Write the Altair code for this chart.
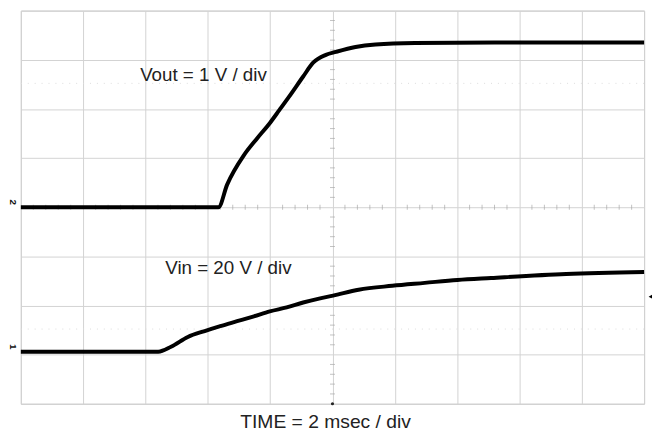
import altair as alt
import pandas as pd

# Time in ms (2 ms/div), voltages in V
vout_t = [0, 6.34, 6.62, 7.16, 7.58, 8.00, 8.30, 8.62, 9.06, 9.38, 9.79, 10.11, 10.74, 11.38, 12.65, 15.2, 20.0]
vout_v = [0, 0, 0.46, 1.06, 1.40, 1.72, 1.98, 2.26, 2.66, 2.94, 3.10, 3.16, 3.26, 3.31, 3.34, 3.35, 3.35]
vin_t = [0, 4.41, 4.82, 5.36, 5.90, 6.40, 6.94, 7.48, 7.99, 8.53, 9.06, 9.57, 10.02, 10.84, 11.92, 12.96, 14.01, 15.09, 17.50, 20.0]
vin_v = [0, 0, 2.0, 6.0, 8.4, 10.4, 12.4, 14.4, 16.4, 18.0, 20.0, 21.6, 22.8, 25.2, 26.8, 28.0, 29.2, 30.0, 31.6, 32.4]

vout_scale = 1.0    # V/div
vin_scale = 20.0    # V/div
vout_offset = 0.0   # div (channel 2 marker)
vin_offset = -2.94  # div (channel 1 marker)

labels = ["Vout = 1 V / div", "Vin = 20 V / div"]
label_t = [5.86, 6.66]
label_pos = [2.68, -1.24]

grid_color = "#d2d2d2"
font = "Liberation Sans"

rows = []
for t, v in zip(vout_t, vout_v):
    rows.append({"series": "Vout", "t": t, "pos": v / vout_scale + vout_offset})
for t, v in zip(vin_t, vin_v):
    rows.append({"series": "Vin", "t": t, "pos": v / vin_scale + vin_offset})
traces = pd.DataFrame(rows)

xs = alt.Scale(domain=[0, 20], nice=False, zero=False)
ys = alt.Scale(domain=[-4, 4], nice=False, zero=False)

base_x = alt.X("t:Q", scale=xs, axis=alt.Axis(
    values=list(range(0, 21, 2)), grid=True, gridColor=grid_color, gridWidth=1,
    labels=False, ticks=False, domain=False,
    title="TIME = 2 msec / div", titleFont=font, titleFontSize=19.5,
    titleFontWeight="normal", titleColor="#222222", titlePadding=9, titleX=308))
base_y = alt.Y("pos:Q", scale=ys, axis=alt.Axis(
    values=list(range(-4, 5)), grid=True, gridColor=grid_color, gridWidth=1,
    labels=False, ticks=False, domain=False, title=None))

lines = alt.Chart(traces).mark_line(color="black", strokeWidth=4, strokeJoin="round",
                                    interpolate="monotone").encode(
    x=base_x, y=base_y, detail="series:N")

# minor ticks along the centre lines
htk = pd.DataFrame({"t": [i * 0.4 for i in range(51) if i % 5 != 0], "pos": 0.0})
vtk = pd.DataFrame({"t": 10.0, "pos": [-4 + i * 0.2 for i in range(41) if i % 5 != 0]})
hticks = alt.Chart(htk).mark_tick(orient="vertical", size=5, thickness=1, color="#a8a8a8").encode(
    x=alt.X("t:Q", scale=xs), y=alt.Y("pos:Q", scale=ys))
vticks = alt.Chart(vtk).mark_tick(orient="horizontal", size=5, thickness=1, color="#a8a8a8").encode(
    x=alt.X("t:Q", scale=xs), y=alt.Y("pos:Q", scale=ys))

# faint dotted reference lines
ref = pd.DataFrame({"pos": [2.52, -2.48]})
refs = alt.Chart(ref).mark_rule(color="#dcdcdc", strokeDash=[1, 6], strokeWidth=1).encode(
    y=alt.Y("pos:Q", scale=ys))

lab = pd.DataFrame({"text": labels, "t": label_t, "pos": label_pos})
texts = alt.Chart(lab).mark_text(font=font, fontSize=19, color="#222222").encode(
    x=alt.X("t:Q", scale=xs), y=alt.Y("pos:Q", scale=ys), text="text:N")

ch = pd.DataFrame({"text": ["2", "1"], "t": [-0.24, -0.24], "pos": [vout_offset + 0.1, vin_offset + 0.1]})
chans = alt.Chart(ch).mark_text(font=font, fontSize=10, fontWeight="bold", angle=90, color="#111111").encode(
    x=alt.X("t:Q", scale=xs), y=alt.Y("pos:Q", scale=ys), text="text:N")

trig = pd.DataFrame({"t": [20.22], "pos": [-1.82]})
trig_mark = alt.Chart(trig).mark_point(shape="triangle-left", size=30, filled=True, color="black", opacity=1).encode(
    x=alt.X("t:Q", scale=xs), y=alt.Y("pos:Q", scale=ys))

tpos = pd.DataFrame({"t": [10.0], "pos": [-4.0]})
tpos_mark = alt.Chart(tpos).mark_point(shape="circle", size=10, filled=True, color="#222222", opacity=1).encode(
    x=alt.X("t:Q", scale=xs), y=alt.Y("pos:Q", scale=ys))

chart = alt.layer(refs, hticks, vticks, lines, texts, chans, trig_mark, tpos_mark).properties(
    width=631, height=398,
    autosize=alt.AutoSizeParams(type="none"),
    padding={"left": 13, "top": 0, "right": 8, "bottom": 32},
    background="white",
).configure_view(stroke="#c4c4c4", strokeWidth=1)

chart.save("out.html", embed_options={"renderer": "svg", "actions": False})
